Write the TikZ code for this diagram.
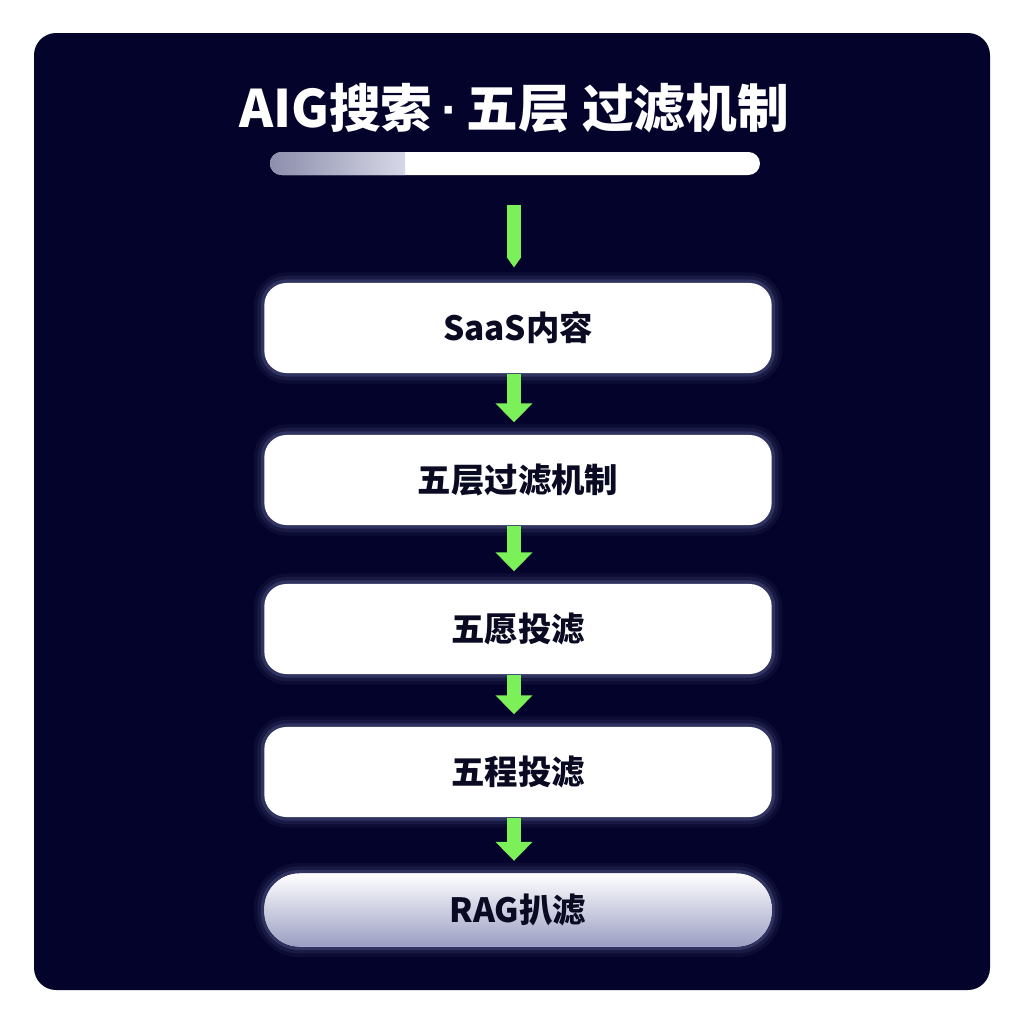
\documentclass[tikz,border=0pt]{standalone}
\usepackage{fontspec}
\setmainfont{Noto Sans CJK SC}
\newfontfamily\dotfont{Liberation Sans}
\usetikzlibrary{arrows.meta}
\definecolor{panelnavy}{RGB}{3,3,43}
\definecolor{flowgreen}{RGB}{124,240,88}
\definecolor{inknavy}{RGB}{10,10,35}
\definecolor{haloblue}{RGB}{185,198,255}
\definecolor{barleft}{RGB}{140,142,172}
\definecolor{barright}{RGB}{214,215,230}
\definecolor{lavender}{RGB}{155,158,195}
\tikzset{
    stage/.style={
        rounded corners=6.3pt,
        fill=white,
        minimum width=5.07cm,
        minimum height=0.9cm,
        text=inknavy,
        font=\bfseries\fontsize{9.5pt}{11pt}\selectfont,
        preaction={draw=haloblue,line width=6pt,opacity=0.05},
        preaction={draw=haloblue,line width=4pt,opacity=0.08},
        preaction={draw=haloblue,line width=2pt,opacity=0.15}
    },
    flow/.style={
        flowgreen,
        line width=4pt,
        -{Triangle[width=10.2pt,length=5.4pt]},
        shorten >=3.4pt
    }
}

\begin{document}
\begin{tikzpicture}[x=0.01cm,y=-0.01cm]
\useasboundingbox (0,0) rectangle (1024,1024);
\fill[white] (0,0) rectangle (1024,1024);
\fill[panelnavy,rounded corners=6.3pt] (34,33) rectangle (990,990);
\node[text=white,font=\bfseries\fontsize{14.7pt}{18pt}\selectfont] (title) at (514,108) {AIG搜索{\dotfont\bfseries\,·\,}五层 过滤机制};
\fill[white,rounded corners=3.3pt] (270,152) rectangle (760,175);
\begin{scope}
\clip[rounded corners=3.3pt] (270,152) rectangle (760,175);
\shade[left color=barleft,right color=barright] (270,152) rectangle (405,175);
\end{scope}
\coordinate (axis) at (514,205);
\node[stage] (saas) at (518,328) {SaaS内容};
\node[stage] (filter) at (518,480) {五层过滤机制};
\node[stage] (layer) at (518,629) {五愿投滤};
\node[stage] (process) at (518,772) {五程投滤};
\node[stage,rounded corners=10pt,minimum height=0.73cm,top color=white,bottom color=lavender] (rag) at (518,910) {RAG扒滤};
\draw[flowgreen,line width=4pt,-{Triangle[width=4pt,length=3pt]},shorten >=4.2pt] (axis) -- (saas.north -| axis);
\draw[flow] (saas.south -| axis) -- (filter.north -| axis);
\draw[flow] (filter.south -| axis) -- (layer.north -| axis);
\draw[flow] (layer.south -| axis) -- (process.north -| axis);
\draw[flow] (process.south -| axis) -- (rag.north -| axis);
\end{tikzpicture}
\end{document}
